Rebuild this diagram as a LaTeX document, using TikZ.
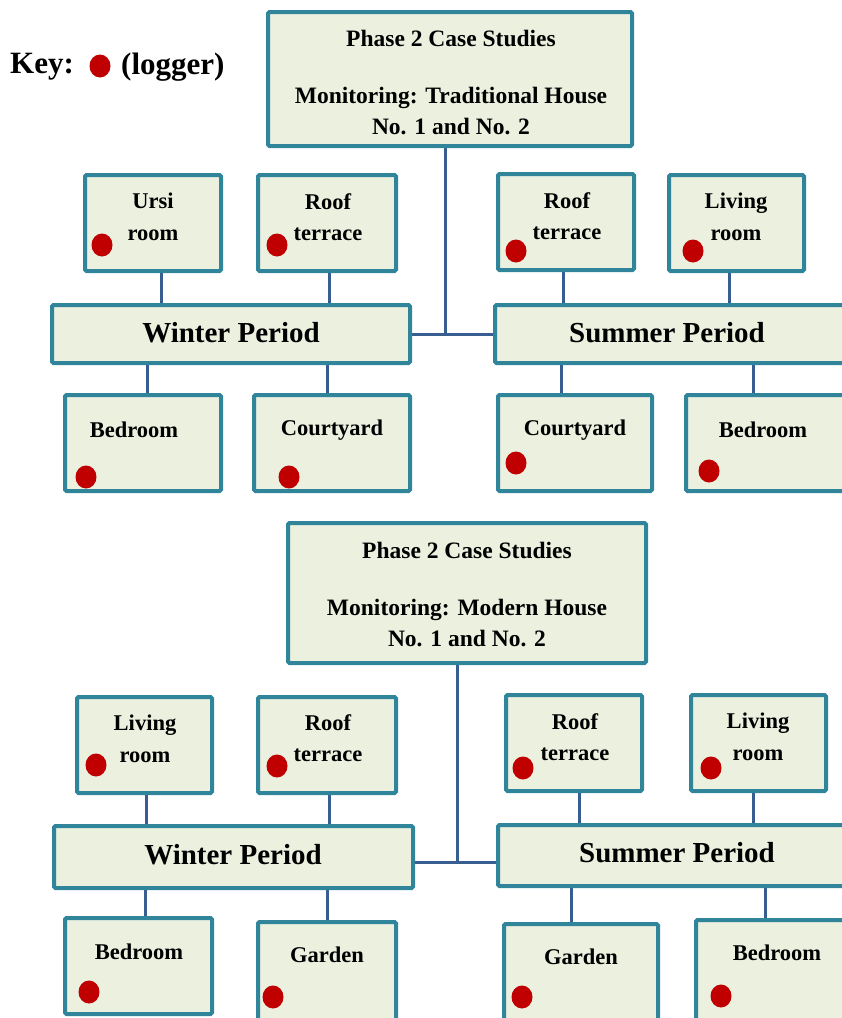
\documentclass[tikz,border=0pt]{standalone}
\usepackage{fontspec}
\setmainfont{Liberation Serif}
\usetikzlibrary{fit,shapes.geometric,backgrounds}
\definecolor{frame}{RGB}{49,133,155}
\definecolor{paper}{RGB}{235,240,223}
\definecolor{wire}{RGB}{56,93,145}
\definecolor{dotred}{RGB}{192,0,0}

% a framed box given by its outer corners (left, top, right, bottom)
\newcommand\panelbox[5]{\node[panel,fit={(#2+2,#3+2) (#4-2,#5-2)}] (#1) {};}
% a vertical link at x = #1 between the bottom of #2 and the top of #3
\newcommand\drop[3]{\draw[link] (#1,0 |- #2.south) -- (#1,0 |- #3.north);}

\begin{document}
\begin{tikzpicture}[x=1pt,y=-1pt,
  panel/.style={draw=frame,line width=4pt,fill=paper,rounded corners=1.5pt,inner sep=0pt,outer sep=0pt},
  link/.style={draw=wire,line width=3pt},
  logger/.style={ellipse,fill=dotred,minimum width=21pt,minimum height=23pt,inner sep=0pt},
  room/.style={font=\bfseries\fontsize{22.5}{31.5}\selectfont,align=center,inner sep=0pt},
  period/.style={font=\bfseries\fontsize{29}{34}\selectfont,inner sep=0pt},
  heading/.style={font=\bfseries\fontsize{23.5}{31}\selectfont,align=center,inner sep=0pt},
  keytext/.style={font=\bfseries\fontsize{31}{36}\selectfont,inner sep=0pt,anchor=west},
]
\useasboundingbox (0,0) rectangle (842,1018);
\begin{scope}
\clip (0,0) rectangle (842,1018);

% ---------- key ----------
\node[keytext] (keyword) at (10,67) {Key:};
\node[logger] (keydot) at (100,66) {};
\node[keytext] (keyname) at (121,67) {(logger)};

% ---------- traditional houses ----------
\panelbox{headA}{266}{10}{634}{148}
\node[heading] (headAone) at (451,38) {Phase 2 Case Studies};
\node[heading] (headAtwo) at (451,111) {Monitoring: Traditional House\\No. 1 and No. 2};

\panelbox{ursiA}{83}{173}{223}{273}
\panelbox{roofA}{256}{173}{398}{273}
\panelbox{roofB}{496}{172}{636}{272}
\panelbox{liveB}{667}{173}{806}{273}
\panelbox{winterA}{50}{303}{412}{365}
\panelbox{summerA}{493}{303}{850}{365}
\panelbox{bedA}{63}{393}{223}{493}
\panelbox{yardA}{252}{393}{412}{493}
\panelbox{yardB}{496}{393}{654}{493}
\panelbox{bedB}{684}{393}{850}{493}

\node[room] (ursiAt) at (153,217) {Ursi\\room};
\node[logger] (ursiAd) at (102,245) {};
\node[room] (roofAt) at (328,217) {Roof\\terrace};
\node[logger] (roofAd) at (277,245) {};
\node[room] (roofBt) at (567,216) {Roof\\terrace};
\node[logger] (roofBd) at (516,251) {};
\node[room] (liveBt) at (736,217) {Living\\room};
\node[logger] (liveBd) at (693,251) {};

\node[period] (winterAt) at (231,333) {Winter Period};
\node[period] (summerAt) at (667,333) {Summer Period};

\node[room] (bedAt) at (134,430) {Bedroom};
\node[logger] (bedAd) at (86,477) {};
\node[room] (yardAt) at (332,430) {Courtyard};
\node[logger] (yardAd) at (289,477) {};
\node[room] (yardBt) at (575,430) {Courtyard};
\node[logger] (yardBd) at (516,463) {};
\node[room] (bedBt) at (763,430) {Bedroom};
\node[logger] (bedBd) at (709,471) {};

% ---------- modern houses ----------
\panelbox{headB}{286}{521}{648}{665}
\node[heading] (headBone) at (467,550) {Phase 2 Case Studies};
\node[heading] (headBtwo) at (467,623) {Monitoring: Modern House\\No. 1 and No. 2};

\panelbox{liveC}{75}{695}{214}{795}
\panelbox{roofC}{256}{695}{398}{795}
\panelbox{roofD}{504}{693}{644}{793}
\panelbox{liveD}{689}{693}{828}{793}
\panelbox{winterB}{52}{824}{415}{890}
\panelbox{summerB}{496}{823}{850}{888}
\panelbox{bedC}{63}{916}{214}{1016}
\panelbox{gardenC}{256}{920}{398}{1026}
\panelbox{gardenD}{502}{922}{660}{1026}
\panelbox{bedD}{694}{918}{850}{1026}

\node[room] (liveCt) at (145,739) {Living\\room};
\node[logger] (liveCd) at (96,765) {};
\node[room] (roofCt) at (328,738) {Roof\\terrace};
\node[logger] (roofCd) at (277,766) {};
\node[room] (roofDt) at (575,737) {Roof\\terrace};
\node[logger] (roofDd) at (523,768) {};
\node[room] (liveDt) at (758,737) {Living\\room};
\node[logger] (liveDd) at (711,768) {};

\node[period] (winterBt) at (233,855) {Winter Period};
\node[period] (summerBt) at (677,853) {Summer Period};

\node[room] (bedCt) at (139,952) {Bedroom};
\node[logger] (bedCd) at (89,992) {};
\node[room] (gardenCt) at (327,955) {Garden};
\node[logger] (gardenCd) at (273,997) {};
\node[room] (gardenDt) at (581,957) {Garden};
\node[logger] (gardenDd) at (522,997) {};
\node[room] (bedDt) at (777,953) {Bedroom};
\node[logger] (bedDd) at (721,996) {};
\end{scope}

% ---------- links, kept behind the boxes ----------
\begin{pgfonlayer}{background}
\draw[link] (445,0 |- headA.south) -- (445,0 |- winterA.east);
\draw[link] (winterA.east) -- (summerA.west);
\drop{161}{ursiA}{winterA}
\drop{329}{roofA}{winterA}
\drop{563}{roofB}{summerA}
\drop{729}{liveB}{summerA}
\drop{147}{winterA}{bedA}
\drop{327}{winterA}{yardA}
\drop{561}{summerA}{yardB}
\drop{753}{summerA}{bedB}

\draw[link] (457,0 |- headB.south) -- (457,862);
\draw[link] (winterB.east |- 0,862) -- (summerB.west |- 0,862);
\drop{146}{liveC}{winterB}
\drop{329}{roofC}{winterB}
\drop{579}{roofD}{summerB}
\drop{753}{liveD}{summerB}
\drop{145}{winterB}{bedC}
\drop{327}{winterB}{gardenC}
\drop{571}{summerB}{gardenD}
\drop{765}{summerB}{bedD}
\end{pgfonlayer}
\end{tikzpicture}
\end{document}
